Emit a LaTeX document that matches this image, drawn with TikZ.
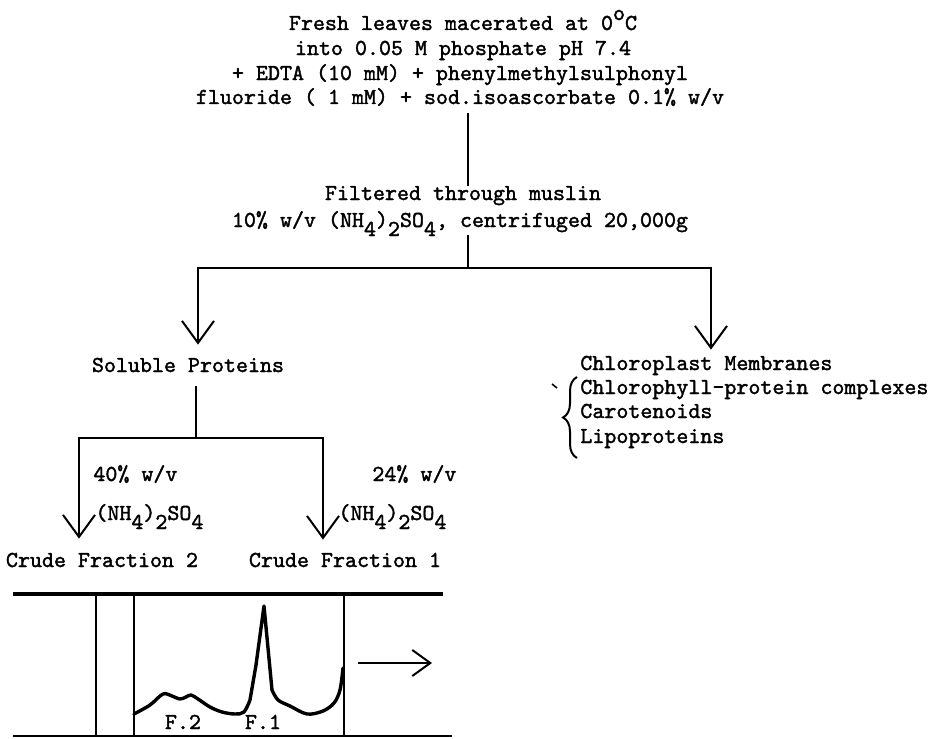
\documentclass[tikz,border=0pt]{standalone}
\usepackage{fontspec}
\newfontfamily\tw{lmmono10-regular}[Extension=.otf, FakeBold=1.6]
\usetikzlibrary{arrows.meta,decorations.pathreplacing}
\newcommand\dn[1]{\raisebox{-4.5pt}{#1}}
\newcommand\degsup{\raisebox{5pt}{o}}
\begin{document}
\begin{tikzpicture}[x=0.5pt,y=-0.5pt,
  txt/.style={font=\tw\bfseries\fontsize{11.43pt}{12.5pt}\selectfont, inner sep=0pt,
              text height=7pt, text depth=2pt, anchor=base},
  ln/.style={line width=1pt},
  arr/.style={ln, -{Straight Barb[length=11pt,width=16pt]}},
  curve/.style={line width=1.7pt, line join=round, line cap=round}]
\useasboundingbox (0,0) rectangle (933,739);

% top block
\node[txt] (t1) at (463,30) {Fresh leaves macerated at 0\degsup C};
\node[txt] (t2) at (463,55) {into 0.05 M phosphate pH 7.4};
\node[txt] (t3) at (460,80) {+ EDTA (10 mM) + phenylmethylsulphonyl};
\node[txt] (t4) at (460,104) {fluoride ( 1 mM) + sod.isoascorbate 0.1\% w/v};

% filter block
\node[txt] (f1) at (463,200) {Filtered through muslin};
\node[txt] (f2) at (460,227) {10\% w/v (NH\dn{4})\dn{2}SO\dn{4}, centrifuged 20,000g};

\coordinate (j1) at (468,268);
\coordinate (bL) at (198,268);
\coordinate (bR) at (711,268);

\draw[ln, shorten <=2.5pt] (t4.south -| j1) -- (f1.north -| j1);
\draw[ln, shorten <=2pt] (f2.south -| j1) -- (j1);

% second level
\node[txt] (sol) at (188,372) {Soluble Proteins};
\node[txt, anchor=base west] (c1) at (580,370) {Chloroplast Membranes};
\node[txt, anchor=base west] (c2) at (580,394) {Chlorophyll-protein complexes};
\node[txt, anchor=base west] (c3) at (580,418) {Carotenoids};
\node[txt, anchor=base west] (c4) at (580,443) {Lipoproteins};

\draw[arr, shorten >=6.5pt] (j1) -- (bL) -- (sol.north -| bL);
\draw[arr, shorten >=3pt] (j1) -- (bR) -- (c1.north -| bR);

\draw[ln, decorate, decoration={brace, amplitude=7pt}] (577,458) -- (577,377);
\draw[line width=0.8pt] (552,384) -- (557,388);

% third level
\coordinate (j2) at (196,438);
\coordinate (cL) at (79,438);
\coordinate (cR) at (323,438);

\node[txt, anchor=base west] (p40) at (93,481) {40\% w/v};
\node[txt, anchor=base west] (p24) at (372,481) {24\% w/v};
\node[txt, anchor=base west] (s2) at (95,520) {(NH\dn{4})\dn{2}SO\dn{4}};
\node[txt, anchor=base west] (s1) at (338,520) {(NH\dn{4})\dn{2}SO\dn{4}};

\node[txt] (cf2) at (102,567) {Crude Fraction 2};
\node[txt] (cf1) at (345,567) {Crude Fraction 1};

\draw[ln, shorten <=5pt] (sol.south -| j2) -- (j2);
\draw[arr, shorten >=7pt] (j2) -- (cL) -- (cf2.north -| cL);
\draw[arr, shorten >=6.5pt] (j2) -- (cR) -- (cf1.north -| cR);

% chart
\draw[line width=1.6pt] (13,594) -- (443,594);
\draw[ln] (13,736) -- (452,736);
\draw[ln] (96,594) -- (96,736);
\draw[ln] (134,594) -- (134,736);
\draw[ln] (344,594) -- (344,736);

\draw[curve] plot[smooth, tension=0.55] coordinates {(134,714) (150,705) (163,694) (172,696) (180,699) (186,697) (191,695) (198,699) (210,707) (222,712) (235,714) (244,712) (250,700)}
  -- (256,665) -- (264,606) -- (268,648) -- (272,690)
  -- plot[smooth, tension=0.55] coordinates {(272,690) (278,700) (290,706) (307,714) (323,711) (334,703) (340,690) (343,668)};

\node[txt] (F2) at (183,729) {F.2};
\node[txt] (F1) at (263,729) {F.1};

\coordinate (a0) at (358,663);
\coordinate (a1) at (432,663);
\draw[ln, -{Straight Barb[length=9pt,width=13pt]}] (a0) -- (a1);
\end{tikzpicture}
\end{document}
